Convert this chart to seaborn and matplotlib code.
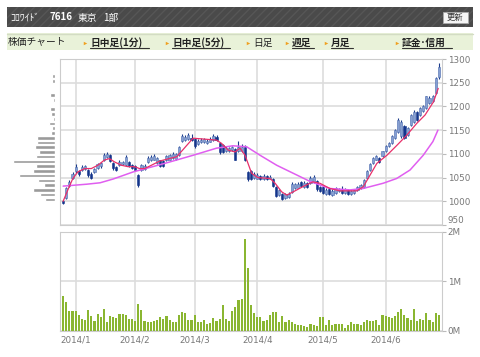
import numpy as np
import pandas as pd
import seaborn as sns
import matplotlib.pyplot as plt
from matplotlib.patches import Rectangle

# daily candles, 2013/12/25 .. 2014/6/25 (trading days)
opens = [1000, 1006, 1033, 1050, 1063, 1064, 1066, 1068, 1066, 1058,
         1062, 1070, 1074, 1087, 1094, 1097, 1080, 1072, 1077, 1078,
         1077, 1083, 1076, 1075, 1055, 1066, 1068, 1083, 1086, 1088,
         1081, 1086, 1085, 1087, 1088, 1091, 1090, 1098, 1127, 1130,
         1132, 1134, 1132, 1120, 1124, 1125, 1123, 1126, 1129, 1135,
         1122, 1118, 1106, 1105, 1108, 1111, 1105, 1106, 1115, 1062,
         1064, 1049, 1048, 1054, 1047, 1053, 1048, 1048, 1031, 1014,
         1016, 1007, 1008, 1020, 1028, 1029, 1041, 1031, 1038, 1039,
         1041, 1042, 1030, 1031, 1016, 1026, 1014, 1018, 1021, 1024,
         1017, 1024, 1016, 1018, 1024, 1028, 1031, 1049, 1066, 1081,
         1088, 1092, 1095, 1105, 1116, 1123, 1133, 1147, 1137, 1158,
         1140, 1161, 1168, 1189, 1182, 1190, 1196, 1207, 1211, 1228,
         1262]
closes = [997, 1027, 1041, 1058, 1072, 1057, 1073, 1074, 1055, 1050,
          1069, 1078, 1080, 1098, 1100, 1084, 1070, 1066, 1083, 1082,
          1094, 1074, 1070, 1067, 1034, 1076, 1075, 1092, 1094, 1096,
          1091, 1075, 1074, 1096, 1097, 1100, 1099, 1114, 1138, 1136,
          1139, 1129, 1116, 1128, 1130, 1131, 1128, 1132, 1138, 1130,
          1103, 1104, 1113, 1112, 1114, 1088, 1114, 1115, 1088, 1046,
          1046, 1058, 1056, 1047, 1054, 1046, 1052, 1033, 1011, 1023,
          1005, 1016, 1016, 1037, 1036, 1037, 1032, 1039, 1031, 1050,
          1052, 1025, 1021, 1018, 1024, 1015, 1022, 1027, 1026, 1017,
          1025, 1016, 1021, 1023, 1031, 1034, 1045, 1063, 1078, 1091,
          1095, 1082, 1105, 1116, 1123, 1137, 1151, 1172, 1168, 1133,
          1154, 1182, 1189, 1172, 1196, 1200, 1221, 1218, 1221, 1260,
          1284]
highs = [1003, 1030, 1044, 1062, 1078, 1066, 1076, 1077, 1068, 1062,
         1071, 1081, 1083, 1102, 1104, 1099, 1082, 1075, 1086, 1085,
         1097, 1085, 1078, 1077, 1057, 1079, 1078, 1095, 1097, 1100,
         1093, 1088, 1087, 1098, 1099, 1103, 1101, 1117, 1141, 1140,
         1144, 1141, 1134, 1131, 1133, 1134, 1131, 1135, 1141, 1140,
         1124, 1120, 1116, 1115, 1117, 1113, 1128, 1120, 1118, 1064,
         1066, 1061, 1059, 1056, 1057, 1055, 1055, 1050, 1033, 1026,
         1018, 1018, 1019, 1040, 1039, 1040, 1043, 1042, 1040, 1053,
         1055, 1044, 1032, 1033, 1027, 1028, 1025, 1030, 1029, 1032,
         1028, 1026, 1023, 1025, 1033, 1037, 1047, 1066, 1081, 1094,
         1097, 1094, 1107, 1118, 1125, 1139, 1153, 1176, 1171, 1160,
         1157, 1185, 1192, 1191, 1199, 1203, 1223, 1221, 1224, 1262,
         1292]
lows = [994, 1004, 1030, 1047, 1060, 1054, 1063, 1065, 1052, 1048,
        1059, 1068, 1071, 1085, 1091, 1082, 1067, 1064, 1075, 1076,
        1075, 1072, 1068, 1065, 1031, 1064, 1066, 1081, 1084, 1086,
        1079, 1073, 1072, 1085, 1086, 1089, 1088, 1096, 1125, 1128,
        1130, 1127, 1113, 1118, 1122, 1123, 1121, 1124, 1127, 1128,
        1100, 1101, 1104, 1103, 1106, 1086, 1103, 1104, 1085, 1043,
        1044, 1047, 1046, 1045, 1045, 1044, 1046, 1031, 1009, 1012,
        1003, 1005, 1006, 1018, 1026, 1027, 1030, 1029, 1029, 1037,
        1039, 1022, 1019, 1016, 1014, 1013, 1012, 1016, 1019, 1015,
        1015, 1014, 1014, 1016, 1022, 1026, 1029, 1047, 1064, 1079,
        1086, 1080, 1093, 1103, 1114, 1121, 1131, 1145, 1134, 1131,
        1138, 1159, 1166, 1170, 1180, 1188, 1194, 1205, 1209, 1226,
        1258]
# daily volume, millions of shares
volume_m = [0.70, 0.58, 0.40, 0.40, 0.41, 0.32, 0.25, 0.22, 0.43, 0.31,
            0.21, 0.35, 0.28, 0.44, 0.19, 0.31, 0.29, 0.27, 0.35, 0.35,
            0.32, 0.25, 0.25, 0.21, 0.54, 0.43, 0.21, 0.19, 0.19, 0.21,
            0.23, 0.28, 0.25, 0.31, 0.23, 0.19, 0.19, 0.32, 0.39, 0.37,
            0.22, 0.22, 0.32, 0.19, 0.19, 0.22, 0.15, 0.17, 0.26, 0.21,
            0.25, 0.53, 0.25, 0.21, 0.41, 0.49, 0.62, 0.65, 1.84, 1.27,
            0.53, 0.37, 0.28, 0.29, 0.21, 0.22, 0.32, 0.39, 0.39, 0.19,
            0.31, 0.19, 0.23, 0.18, 0.15, 0.13, 0.13, 0.11, 0.09, 0.15,
            0.12, 0.11, 0.29, 0.28, 0.13, 0.22, 0.13, 0.14, 0.14, 0.15,
            0.07, 0.12, 0.18, 0.14, 0.15, 0.13, 0.18, 0.22, 0.21, 0.21,
            0.23, 0.13, 0.32, 0.31, 0.28, 0.26, 0.31, 0.39, 0.45, 0.32,
            0.26, 0.22, 0.45, 0.21, 0.25, 0.23, 0.37, 0.22, 0.19, 0.36,
            0.32]

# moving averages (day index, price)
ma_short_day = [0, 1.5, 3.1, 4.7, 6.9, 9, 11.1, 13.2, 14.8, 16.4, 18.6, 20.7,
                22.8, 24.4, 26, 28.2, 30.9, 36.3, 41.5, 49, 50.6, 52.7, 54.9,
                56.5, 58.1, 60.2, 62.2, 66.1, 67.7, 69.8, 71.4, 73.5, 76.6,
                79.8, 82, 85.2, 88.4, 93.8, 95.9, 98, 100.2, 103.4, 106.6,
                109.7, 112.9, 115.6, 118.3, 119.8]
ma_short = [1000, 1024, 1048, 1062, 1069, 1069, 1076, 1087, 1090, 1083, 1076,
            1073, 1073, 1069, 1069, 1076, 1085, 1094, 1133, 1129, 1122, 1108,
            1104, 1112, 1097, 1059, 1050, 1048, 1038, 1020, 1013, 1020, 1031,
            1041, 1038, 1027, 1022, 1022, 1031, 1055, 1080, 1097, 1118, 1139,
            1164, 1182, 1210, 1238]
ma_long_day = [0, 7.5, 11.8, 16, 22.4, 30.3, 34.1, 41.5, 49, 54.2, 58.6,
               62.9, 68.2, 73.5, 78.8, 85.2, 91.6, 95.8, 102.2, 106.5, 110.8,
               115, 118.1, 119.7]
ma_long = [1032, 1036, 1039, 1047, 1062, 1076, 1083, 1097, 1112, 1117, 1115,
           1097, 1076, 1059, 1042, 1027, 1024, 1027, 1038, 1048, 1066, 1097,
           1126, 1150]

# volume-by-price profile on the left
profile_price = [1004, 1014, 1024, 1034, 1044, 1054, 1064, 1074, 1084, 1094,
                 1104, 1114, 1124, 1134, 1144, 1154, 1164, 1174, 1184, 1194,
                 1214, 1224, 1254, 1264]
profile_vol = [10, 15, 21.7, 11, 17, 35.7, 21.7, 19, 41.7, 19,
               15.7, 19.7, 17.7, 18.3, 4, 3.3, 6.3, 2.3, 4, 4.7,
               2.3, 5.3, 3.3, 3.3]

month_labels = ["2014/1", "2014/2", "2014/3", "2014/4", "2014/5", "2014/6"]
month_first_day = [4, 23, 42, 62, 83, 103]
price_ticks = [950, 1000, 1050, 1100, 1150, 1200, 1250, 1300]

sns.set_style("white")
plt.rcParams['font.family'] = ['DejaVu Sans']
JP = ['Noto Sans CJK JP', 'DejaVu Sans']

df = pd.DataFrame({"day": np.arange(len(closes)), "open": opens, "close": closes,
                   "high": highs, "low": lows, "vol": volume_m})
up = df["close"] >= df["open"]

fig = plt.figure(figsize=(4.8, 3.57), dpi=100)

# page furniture (pixel coords)
bg = fig.add_axes([0, 0, 1, 1])
bg.set_xlim(0, 480)
bg.set_ylim(357, 0)
bg.axis("off")
plt.rcParams['hatch.linewidth'] = 1.0
bg.add_patch(Rectangle((7, 7), 466, 20, fc="#4a4a4a", ec="#565656", hatch="////", lw=0))
bg.text(10, 17.5, "ｺﾛﾜｲﾄﾞ", color="white", fontsize=7, family=JP, va="center")
bg.text(49, 17.5, "7616", color="white", fontsize=7, family=JP, va="center", weight="bold")
bg.text(78, 17.5, "東京", color="white", fontsize=7, family=JP, va="center")
bg.text(103, 17.5, "1部", color="white", fontsize=7, family=JP, va="center")
bg.add_patch(Rectangle((443, 12), 25, 10.5, fc="#f5f5f5", ec="#aaaaaa", lw=0.6))
bg.text(455.5, 17.3, "更新", color="#333333", fontsize=6, family=JP, va="center", ha="center")

bg.add_patch(Rectangle((7, 33), 466, 17, fc="#e9f2d9", ec="none"))
bg.plot([7, 473], [33.5, 33.5], color="#d3dcc4", lw=1)
bg.text(8, 42.5, "株価チャート", fontsize=7, family=JP, va="center", color="#222222")
nav = [(84, "日中足(1分)", True, 149), (166, "日中足(5分)", True, 230),
       (247, "日足", False, 0), (286, "週足", True, 314),
       (325, "月足", True, 353), (396, "証金･信用", True, 452)]
for tx, label, link, end in nav:
    bg.plot(tx + 1, 42.5, marker=">", ms=2.5, color="#f0a020", mec="none")
    bg.text(tx + 6, 42.5, label, fontsize=7, family=JP, va="center",
            color="#222222", weight="bold" if link else "normal")
    if link:
        bg.plot([tx + 6, end], [48, 48], color="#333333", lw=0.8)

grid_c = "#dddddd"
spine_c = "#cccccc"
label_c = "#777777"

# price chart
ax = fig.add_axes([60 / 480, 1 - 225 / 357, 382 / 480, 166 / 357])
ax.vlines(df["day"], df["low"], df["high"], color="#1b3a8a", lw=0.8, zorder=3)
body = np.maximum((df["close"] - df["open"]).abs(), 1.5)
ax.bar(df["day"], body, bottom=np.minimum(df["open"], df["close"]), width=0.7,
       color=np.where(up, "#86a0d2", "#14358c"),
       edgecolor=np.where(up, "#4e6db0", "#14358c"), lw=0.4, zorder=4)
sns.lineplot(x=ma_long_day, y=ma_long, ax=ax, color="#e05ef0", lw=1.1, zorder=5)
sns.lineplot(x=ma_short_day, y=ma_short, ax=ax, color="#e8306a", lw=0.9, zorder=6)
ax.set_xlim(-1, 121)
ax.set_ylim(950, 1300)
ax.set_yticks(price_ticks)
ax.set_xticks(month_first_day)
ax.set_xticklabels([])
ax.yaxis.tick_right()
ax.tick_params(axis="y", length=3, color="#bbbbbb", labelsize=6.3, labelcolor=label_c, pad=1)
ax.tick_params(axis="x", length=0)
ax.get_yticklabels()[0].set_y(953)
ax.get_yticklabels()[0].set_verticalalignment("bottom")
ax.grid(True, color=grid_c, lw=1.2, zorder=0)
for s in ax.spines.values():
    s.set_color(spine_c)

# volume-by-price profile
axp = fig.add_axes([10 / 480, 1 - 225 / 357, 45 / 480, 166 / 357])
axp.barh(profile_price, profile_vol, height=7.5, color="#9a9a9a")
axp.set_xlim(45, 0)
axp.set_ylim(950, 1300)
axp.axis("off")

# volume chart
axv = fig.add_axes([60 / 480, 1 - 331 / 357, 382 / 480, 99.5 / 357])
sns.barplot(data=df, x="day", y="vol", color="#8ab631",
            saturation=1, width=0.68, ax=axv, zorder=3, linewidth=0)
axv.set_xlim(-1, 121)
axv.set_ylim(0, 2)
axv.set_yticks([0, 1, 2])
axv.set_yticklabels(["0M", "1M", "2M"])
axv.set_xticks(month_first_day)
axv.set_xticklabels(month_labels)
axv.set_xlabel("")
axv.set_ylabel("")
axv.yaxis.tick_right()
axv.tick_params(axis="y", length=3, color="#bbbbbb", labelsize=6.3, labelcolor=label_c, pad=1)
axv.tick_params(axis="x", length=0, labelsize=6.3, labelcolor=label_c, pad=3)
axv.grid(True, color=grid_c, lw=1.2, zorder=0)
axv.set_axisbelow(True)
for s in axv.spines.values():
    s.set_color(spine_c)

fig.savefig("out.png", dpi=100)
